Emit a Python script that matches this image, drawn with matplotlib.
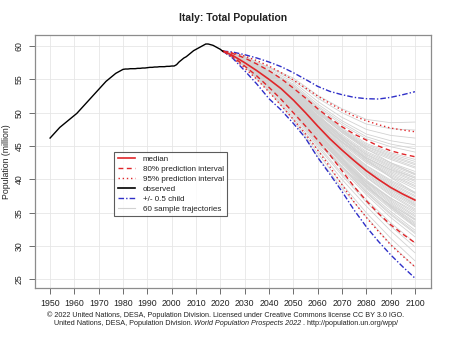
import matplotlib
matplotlib.use("Agg")
import matplotlib.pyplot as plt
from matplotlib.lines import Line2D

plt.rcParams['font.family'] = ['Liberation Sans', 'DejaVu Sans']

# Observed total population (million), 1950-2021
obs_years = list(range(1950, 2022))
obs_pop = [46.2, 46.6, 47.0, 47.4, 47.8, 48.1, 48.4, 48.7, 49.0, 49.3,
           49.6, 49.9, 50.3, 50.7, 51.1, 51.5, 51.9, 52.3, 52.7, 53.1,
           53.5, 53.9, 54.3, 54.7, 55.0, 55.3, 55.6, 55.9, 56.1, 56.3,
           56.5, 56.55, 56.55, 56.6, 56.6, 56.6, 56.65, 56.65, 56.7, 56.7,
           56.75, 56.8, 56.8, 56.85, 56.85, 56.9, 56.9, 56.9, 56.95, 56.95,
           57.0, 57.0, 57.2, 57.6, 57.9, 58.2, 58.4, 58.7, 59.0, 59.3,
           59.5, 59.7, 59.9, 60.1, 60.3, 60.3, 60.2, 60.1, 59.9, 59.7,
           59.5, 59.2]

# Projections, 2021-2100
proj_years = [2021, 2025, 2030, 2035, 2040, 2045, 2050, 2055, 2060,
              2065, 2070, 2075, 2080, 2085, 2090, 2095, 2100]
median = [59.24, 58.6, 57.5, 56.3, 55.0, 53.6, 51.9, 50.0, 48.0,
          46.1, 44.4, 42.8, 41.3, 40.0, 38.8, 37.8, 36.9]
pi80_up = [59.24, 58.9, 58.2, 57.3, 56.3, 55.1, 53.7, 52.2, 50.6,
           49.2, 47.9, 46.8, 45.9, 45.0, 44.3, 43.8, 43.4]
pi80_lo = [59.24, 58.45, 57.0, 55.5, 53.8, 52.0, 50.0, 48.0, 45.9,
           43.7, 41.3, 38.9, 36.8, 34.9, 33.2, 31.8, 30.5]
pi95_up = [59.24, 59.0, 58.5, 57.8, 57.0, 56.0, 54.9, 53.7, 52.5,
           51.4, 50.4, 49.5, 48.8, 48.2, 47.7, 47.4, 47.15]
pi95_lo = [59.24, 58.3, 56.7, 55.0, 53.1, 51.1, 49.0, 46.8, 44.4,
           41.9, 39.2, 36.6, 34.3, 32.2, 30.2, 28.5, 26.9]
half_child_up = [59.24, 59.1, 58.7, 58.2, 57.6, 56.9, 56.0, 55.0, 53.95,
                 53.2, 52.7, 52.3, 52.1, 52.05, 52.3, 52.7, 53.15]
half_child_lo = [59.24, 58.2, 56.3, 54.3, 52.1, 50.4, 48.4, 46.2, 43.3,
                 40.8, 38.2, 35.4, 32.9, 30.7, 28.7, 26.9, 25.2]

# Sample trajectories (values at 2030, 2040, ..., 2100; all start at 2021)
traj_years = [2021, 2030, 2040, 2050, 2060, 2070, 2080, 2090, 2100]
trajectories = [
    [57.0, 53.4, 49.2, 43.9, 39.3, 35.0, 31.2, 27.8],
    [57.1, 53.6, 49.5, 44.5, 40.0, 36.0, 32.3, 29.0],
    [57.2, 53.8, 49.8, 44.9, 40.6, 36.6, 33.0, 29.9],
    [57.1, 53.9, 50.0, 45.2, 40.9, 37.0, 33.5, 30.5],
    [57.3, 54.0, 50.1, 45.4, 41.8, 38.8, 36.2, 34.0],
    [57.2, 54.1, 50.3, 45.6, 41.5, 37.7, 34.3, 31.4],
    [57.3, 54.1, 50.4, 45.8, 41.8, 38.0, 34.7, 31.9],
    [57.4, 54.2, 50.5, 45.9, 41.9, 38.1, 34.9, 32.1],
    [57.3, 54.3, 50.6, 46.0, 42.0, 38.3, 35.2, 32.4],
    [57.4, 54.2, 50.5, 46.1, 42.6, 39.6, 37.2, 35.2],
    [57.5, 54.4, 50.8, 46.3, 42.3, 38.6, 35.6, 32.9],
    [57.4, 54.3, 50.7, 46.3, 42.5, 38.8, 35.8, 33.2],
    [57.5, 54.4, 50.9, 46.5, 42.6, 39.0, 36.0, 33.4],
    [57.4, 54.5, 51.0, 46.6, 42.7, 39.1, 36.1, 33.6],
    [57.5, 54.5, 51.0, 46.7, 42.9, 39.3, 36.4, 33.9],
    [57.6, 54.6, 51.1, 46.7, 43.0, 39.5, 36.6, 34.1],
    [57.5, 54.6, 51.2, 46.9, 43.1, 39.6, 36.8, 34.4],
    [57.6, 54.7, 51.3, 47.0, 43.2, 39.8, 37.0, 34.6],
    [57.5, 54.7, 51.3, 47.1, 43.4, 39.9, 37.2, 34.9],
    [57.6, 54.8, 51.4, 47.2, 43.0, 39.2, 35.9, 33.0],
    [57.6, 54.7, 51.5, 47.3, 43.6, 40.3, 37.6, 35.4],
    [57.7, 54.8, 51.5, 47.4, 43.8, 40.4, 37.8, 35.6],
    [57.6, 54.9, 51.6, 47.5, 43.9, 40.6, 38.0, 35.9],
    [57.7, 54.9, 51.7, 47.6, 44.0, 40.8, 38.2, 36.1],
    [57.6, 55.0, 51.8, 47.7, 44.1, 40.9, 38.4, 36.4],
    [57.7, 54.9, 51.8, 47.8, 44.3, 41.1, 38.6, 36.6],
    [57.6, 55.0, 51.9, 47.9, 44.4, 41.3, 38.9, 36.9],
    [57.7, 55.1, 52.0, 48.0, 44.5, 41.5, 39.1, 37.1],
    [57.6, 55.0, 52.0, 48.1, 44.7, 41.6, 39.3, 37.4],
    [57.7, 55.1, 52.1, 48.2, 44.8, 41.8, 39.5, 37.6],
    [57.8, 55.2, 52.2, 48.3, 44.9, 42.0, 39.7, 37.9],
    [57.7, 55.1, 52.3, 48.4, 45.1, 42.1, 39.9, 38.1],
    [57.8, 55.2, 52.3, 48.5, 45.6, 43.2, 41.5, 40.2],
    [57.7, 55.3, 52.4, 48.6, 45.3, 42.5, 40.4, 38.6],
    [57.8, 55.3, 52.5, 48.7, 45.5, 42.7, 40.6, 38.9],
    [57.9, 55.4, 52.5, 48.8, 45.6, 42.8, 40.8, 39.1],
    [57.8, 55.4, 52.6, 48.9, 45.7, 43.0, 41.0, 39.4],
    [57.9, 55.5, 52.7, 49.0, 45.9, 43.2, 41.2, 39.7],
    [57.8, 55.4, 52.8, 49.1, 46.0, 43.3, 41.4, 39.9],
    [57.9, 55.5, 52.8, 49.2, 46.1, 43.5, 41.7, 40.2],
    [57.9, 55.6, 52.9, 49.3, 46.3, 43.7, 41.9, 40.4],
    [58.0, 55.6, 53.0, 49.4, 46.4, 43.8, 42.1, 40.7],
    [57.9, 55.7, 53.1, 49.5, 46.5, 44.0, 42.3, 40.9],
    [58.0, 55.7, 53.1, 49.6, 46.7, 44.2, 42.5, 41.2],
    [58.0, 55.8, 53.2, 49.8, 46.2, 43.0, 40.3, 38.0],
    [57.9, 55.7, 53.3, 49.9, 47.0, 44.5, 43.0, 41.7],
    [58.0, 55.8, 53.4, 50.0, 47.1, 44.7, 43.2, 41.9],
    [58.1, 55.9, 53.4, 50.1, 47.2, 44.9, 43.4, 42.2],
    [58.0, 55.9, 53.5, 50.2, 47.4, 45.0, 43.6, 42.4],
    [58.1, 56.0, 53.6, 50.3, 47.5, 45.2, 43.8, 42.7],
    [58.0, 55.9, 53.7, 50.4, 47.7, 45.4, 44.0, 43.0],
    [58.1, 56.1, 53.8, 50.6, 47.4, 44.6, 42.5, 40.8],
    [58.2, 56.2, 54.0, 50.8, 48.2, 46.1, 44.9, 44.1],
    [58.1, 56.2, 54.1, 51.0, 48.5, 46.4, 45.3, 44.6],
    [58.2, 56.3, 54.3, 51.3, 48.8, 46.8, 45.8, 45.2],
    [58.3, 56.5, 54.6, 51.7, 49.3, 47.5, 46.6, 46.2],
    [58.4, 56.7, 54.9, 52.2, 50.0, 48.3, 47.6, 47.4],
    [56.9, 53.2, 48.9, 43.4, 38.7, 34.4, 30.3, 26.9],
    [58.4, 56.8, 55.2, 52.6, 50.6, 49.0, 48.5, 48.6],
    [57.7, 55.1, 51.7, 47.6, 44.5, 41.5, 38.6, 36.2],
]

x_ticks = list(range(1950, 2101, 10))
y_ticks = [25, 30, 35, 40, 45, 50, 55, 60]

W, H = 450, 337
fig = plt.figure(figsize=(W / 100, H / 100), dpi=100)
ax = fig.add_axes([35 / W, 1 - 288 / H, (431 - 35) / W, (288 - 35) / H])

red = '#e0262a'
blue = '#2f2fc8'
frame = '#8c8c8c'
dashdot = (0, (4, 1.5, 1, 1.5))
dashed = (0, (3.5, 2.5))
dotted = (0, (1, 2))

for tr in trajectories:
    ax.plot(traj_years, [median[0]] + tr, color='#d2d2d2', lw=0.6, zorder=2)

ax.plot(obs_years, obs_pop, color='black', lw=1.0, zorder=4)
ax.plot(proj_years, half_child_up, color=blue, lw=1.0, ls=dashdot, zorder=3)
ax.plot(proj_years, half_child_lo, color=blue, lw=1.0, ls=dashdot, zorder=3)
ax.plot(proj_years, pi95_up, color=red, lw=1.0, ls=dotted, zorder=3)
ax.plot(proj_years, pi95_lo, color=red, lw=1.0, ls=dotted, zorder=3)
ax.plot(proj_years, pi80_up, color=red, lw=1.0, ls=dashed, zorder=3)
ax.plot(proj_years, pi80_lo, color=red, lw=1.0, ls=dashed, zorder=3)
ax.plot(proj_years, median, color=red, lw=1.2, zorder=3)

ax.set_xlim(1943.8, 2106.6)
ax.set_ylim(23.72, 61.65)
ax.set_xticks(x_ticks)
ax.set_yticks(y_ticks)
ax.grid(True, color='#e6e6e6', lw=0.6, zorder=0)
ax.set_axisbelow(True)
for s in ax.spines.values():
    s.set_color(frame)
    s.set_linewidth(0.9)
ax.tick_params(axis='both', colors='#555555', labelcolor='#222222',
               labelsize=6.3, length=4, width=0.6, pad=4)
ax.tick_params(axis='y', labelrotation=90)
for lab in ax.get_yticklabels():
    lab.set_va('center')

# y-axis title, placed in figure pixels so it stays inside the canvas
fig.text(7 / W, 1 - 161.5 / H, 'Population (million)', rotation=90,
         ha='center', va='center', fontsize=6.3, color='#222222')

fig.text(233 / W, 1 - 18 / H, 'Italy: Total Population', ha='center', va='center',
         fontsize=7.5, fontweight='bold', color='#222222')

handles = [
    Line2D([], [], color=red, lw=1.2),
    Line2D([], [], color=red, lw=1.0, ls=dashed),
    Line2D([], [], color=red, lw=1.0, ls=dotted),
    Line2D([], [], color='black', lw=1.2),
    Line2D([], [], color=blue, lw=1.0, ls=dashdot),
    Line2D([], [], color='#d2d2d2', lw=0.8),
]
labels = ['median', '80% prediction interval', '95% prediction interval',
          'observed', '+/- 0.5 child', '60 sample trajectories']
leg = ax.legend(handles, labels, loc='upper left',
                bbox_to_anchor=((114 - 35) / 396, (288 - 152) / 253),
                borderaxespad=0, fontsize=5.8, frameon=True, fancybox=False,
                handlelength=2.2, handletextpad=0.9, labelspacing=0.28,
                borderpad=0.45)
leg.get_frame().set_edgecolor('#333333')
leg.get_frame().set_linewidth(0.8)
for t in leg.get_texts():
    t.set_color('#222222')

fs_foot = 5.2
fig.text(226 / W, 1 - 315 / H,
         '\u00a9 2022 United Nations, DESA, Population Division. Licensed under Creative Commons license CC BY 3.0 IGO.',
         ha='center', va='center', fontsize=fs_foot, color='#222222')

parts = [('United Nations, DESA, Population Division. ', 'normal'),
         ('World Population Prospects 2022', 'italic'),
         (' . http://population.un.org/wpp/', 'normal')]
fig.canvas.draw()
renderer = fig.canvas.get_renderer()
texts = []
for s, style in parts:
    t = fig.text(0, 1 - 323.5 / H, s, ha='left', va='center', fontsize=fs_foot,
                 style=style, color='#222222')
    texts.append(t)
widths = [t.get_window_extent(renderer).width for t in texts]
x0 = 226 - sum(widths) / 2
for t, w in zip(texts, widths):
    t.set_x(x0 / W)
    x0 += w

fig.savefig('out.png', dpi=100)
